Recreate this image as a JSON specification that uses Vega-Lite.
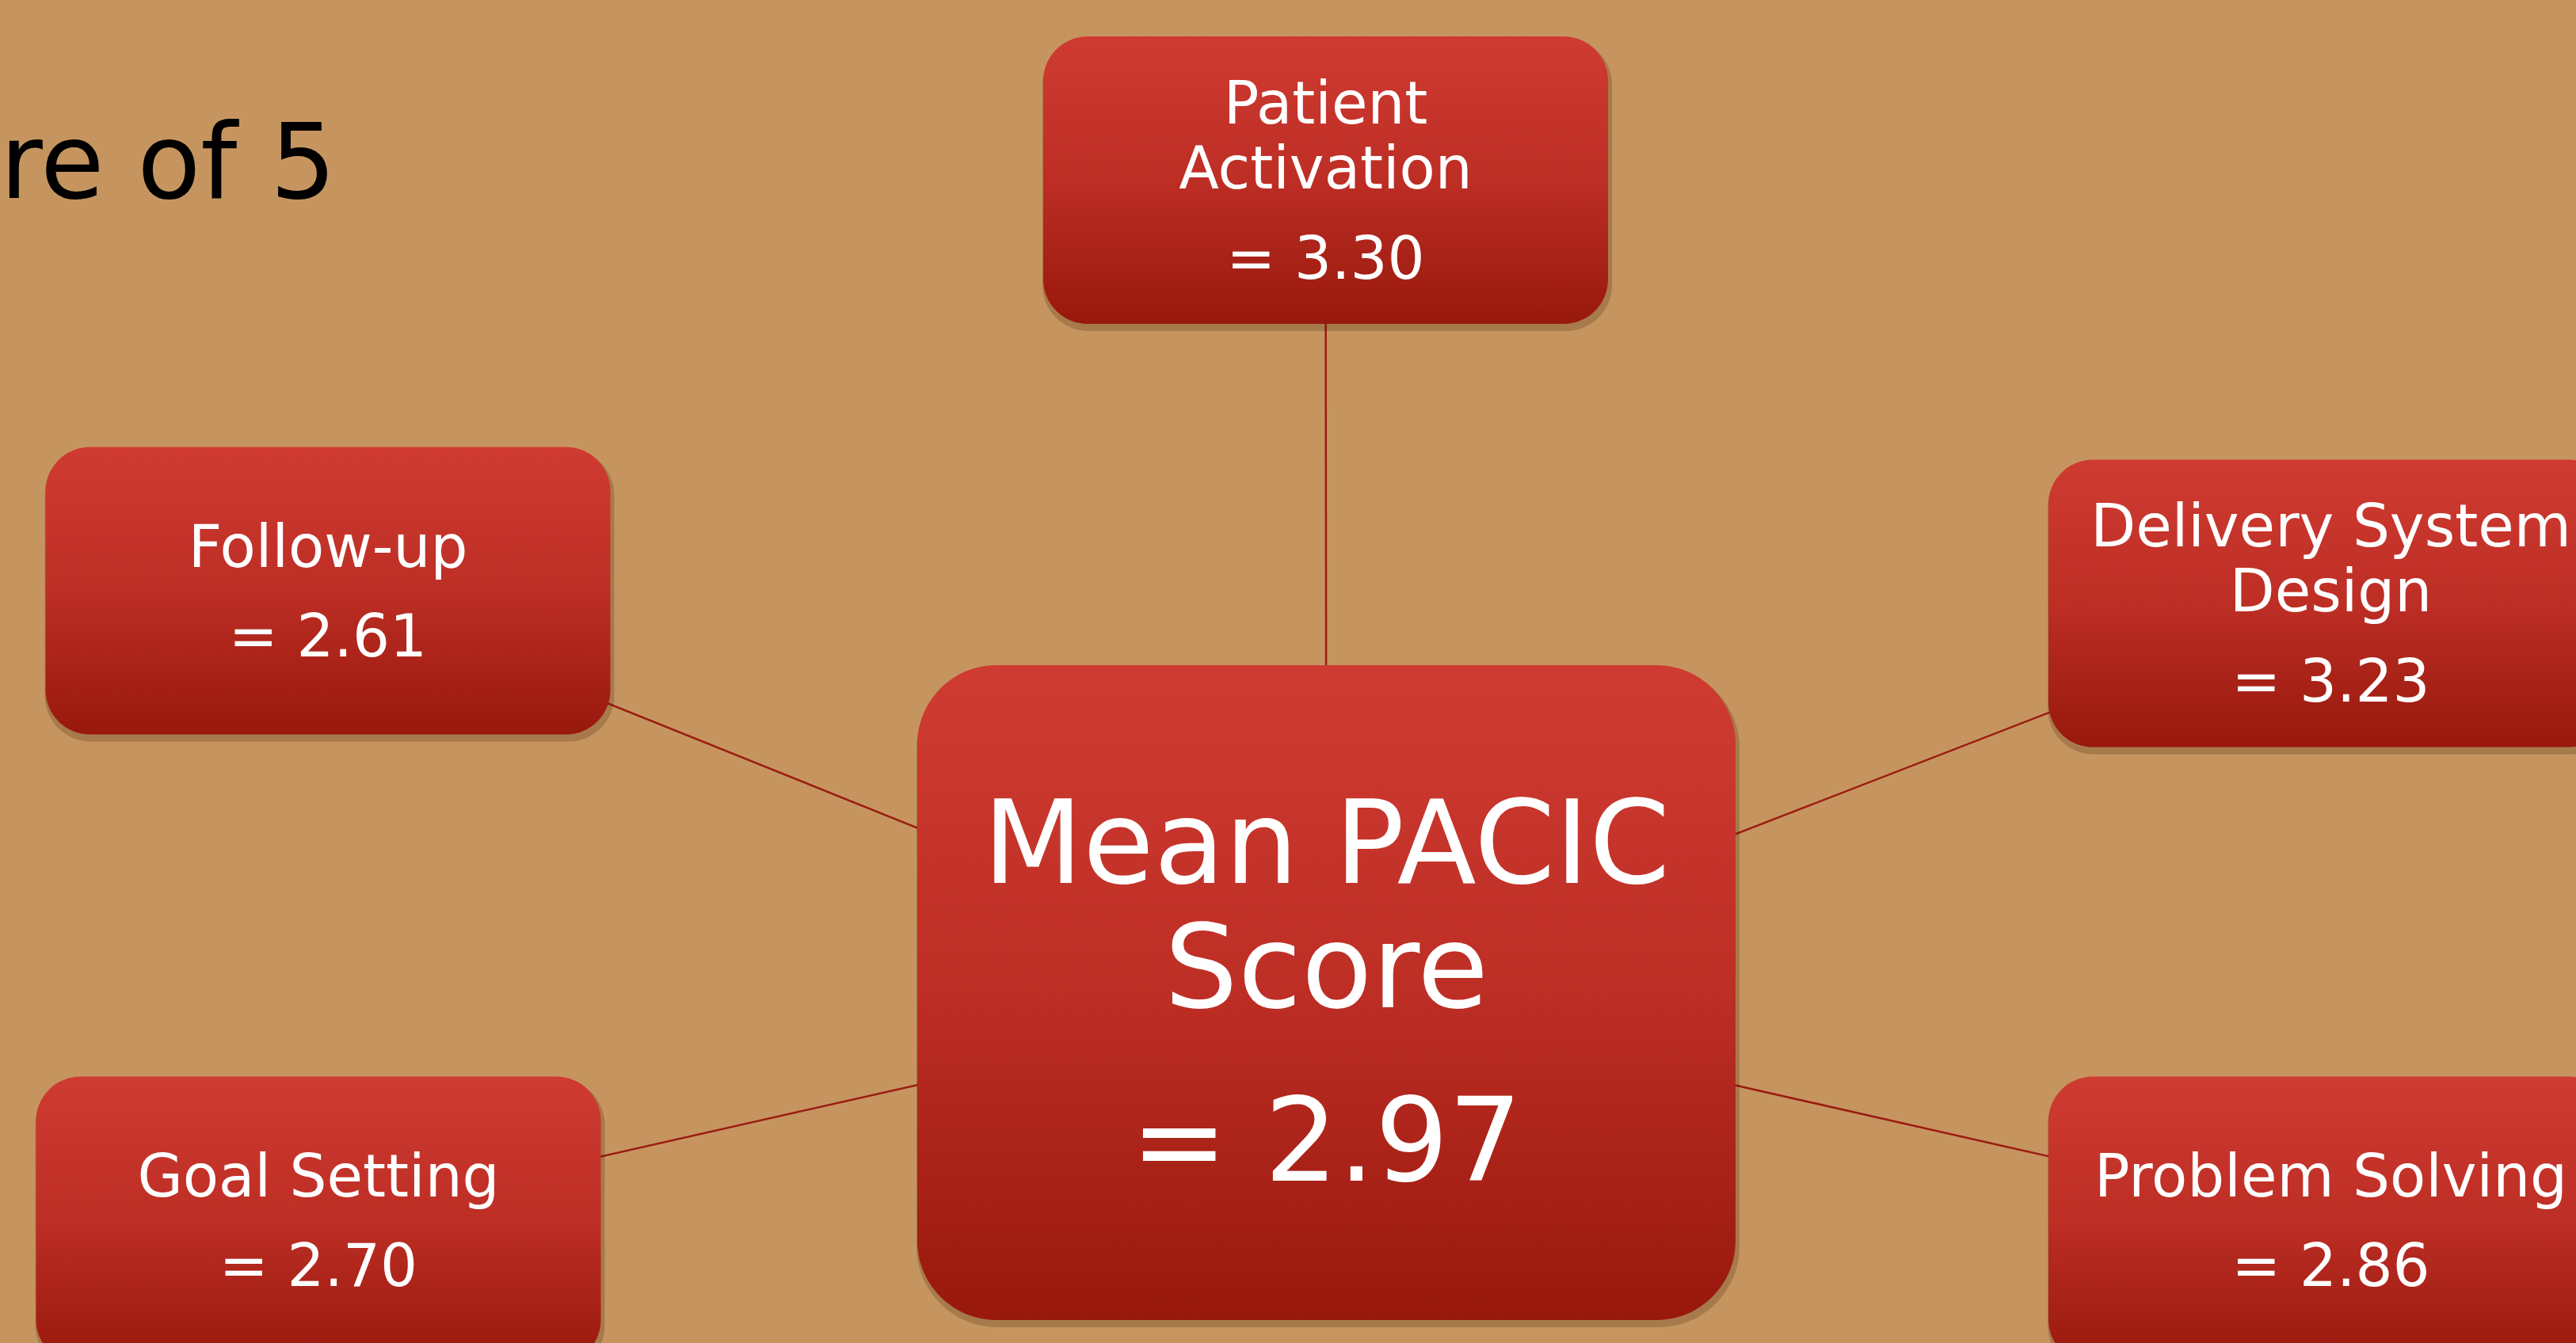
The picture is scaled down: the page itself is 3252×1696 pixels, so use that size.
{
  "$schema": "https://vega.github.io/schema/vega-lite/v6.json",
  "width": 3252,
  "height": 1696,
  "autosize": {"type": "none"},
  "padding": 0,
  "background": "#c6955f",
  "config": {"view": {"stroke": null}},
  "datasets": {
    "nodes": [
      {"id": "hub", "role": "overall", "label": ["Mean PACIC", "Score"], "score": 2.97, "cx": 1674.5, "cy": 1253.5},
      {"id": "pa", "role": "subscale", "parent": "hub", "label": ["Patient", "Activation"], "score": 3.30, "cx": 1673.5, "cy": 227.5},
      {"id": "fu", "role": "subscale", "parent": "hub", "label": ["Follow-up"], "score": 2.61, "cx": 414, "cy": 746},
      {"id": "dsd", "role": "subscale", "parent": "hub", "label": ["Delivery System", "Design"], "score": 3.23, "cx": 2942.5, "cy": 762},
      {"id": "gs", "role": "subscale", "parent": "hub", "label": ["Goal Setting"], "score": 2.70, "cx": 402, "cy": 1541},
      {"id": "ps", "role": "subscale", "parent": "hub", "label": ["Problem Solving"], "score": 2.86, "cx": 2942.5, "cy": 1541}
    ]
  },
  "data": {"name": "nodes"},
  "layer": [
    {
      "transform": [
        {"filter": "isValid(datum.parent)"},
        {"lookup": "parent", "from": {"data": {"name": "nodes"}, "key": "id", "fields": ["cx", "cy"]}, "as": ["px", "py"]}
      ],
      "mark": {"type": "rule", "color": "#9b1b12", "strokeWidth": 2.5},
      "encoding": {
        "x": {"field": "cx", "type": "quantitative", "scale": {"domain": [0, 3252], "nice": false, "zero": false}, "axis": null},
        "y": {"field": "cy", "type": "quantitative", "scale": {"domain": [0, 1696], "nice": false, "zero": false, "reverse": true}, "axis": null},
        "x2": {"field": "px"},
        "y2": {"field": "py"}
      }
    },
    {
      "transform": [{"filter": "datum.role == 'subscale'"}],
      "mark": {"type": "rect", "width": 719, "height": 369, "cornerRadius": 58, "fill": "#3d1c06", "opacity": 0.22, "xOffset": 2, "yOffset": 6},
      "encoding": {
        "x": {"field": "cx", "type": "quantitative", "scale": {"domain": [0, 3252], "nice": false, "zero": false}, "axis": null},
        "y": {"field": "cy", "type": "quantitative", "scale": {"domain": [0, 1696], "nice": false, "zero": false, "reverse": true}, "axis": null}
      }
    },
    {
      "transform": [{"filter": "datum.role == 'overall'"}],
      "mark": {"type": "rect", "width": 1039, "height": 833, "cornerRadius": 102, "fill": "#3d1c06", "opacity": 0.22, "xOffset": 2, "yOffset": 6},
      "encoding": {
        "x": {"field": "cx", "type": "quantitative", "scale": {"domain": [0, 3252], "nice": false, "zero": false}, "axis": null},
        "y": {"field": "cy", "type": "quantitative", "scale": {"domain": [0, 1696], "nice": false, "zero": false, "reverse": true}, "axis": null}
      }
    },
    {
      "transform": [{"filter": "datum.role == 'subscale'"}],
      "mark": {
        "type": "rect", "width": 713, "height": 363, "cornerRadius": 56,
        "fill": {"gradient": "linear", "x1": 0, "y1": 0, "x2": 0, "y2": 1, "stops": [
          {"offset": 0, "color": "#cf3b31"},
          {"offset": 0.5, "color": "#bd2e25"},
          {"offset": 1, "color": "#98180c"}
        ]}
      },
      "encoding": {
        "x": {"field": "cx", "type": "quantitative", "scale": {"domain": [0, 3252], "nice": false, "zero": false}, "axis": null},
        "y": {"field": "cy", "type": "quantitative", "scale": {"domain": [0, 1696], "nice": false, "zero": false, "reverse": true}, "axis": null}
      }
    },
    {
      "transform": [{"filter": "datum.role == 'overall'"}],
      "mark": {
        "type": "rect", "width": 1033, "height": 827, "cornerRadius": 100,
        "fill": {"gradient": "linear", "x1": 0, "y1": 0, "x2": 0, "y2": 1, "stops": [
          {"offset": 0, "color": "#cf3b31"},
          {"offset": 0.5, "color": "#bd2e25"},
          {"offset": 1, "color": "#98180c"}
        ]}
      },
      "encoding": {
        "x": {"field": "cx", "type": "quantitative", "scale": {"domain": [0, 3252], "nice": false, "zero": false}, "axis": null},
        "y": {"field": "cy", "type": "quantitative", "scale": {"domain": [0, 1696], "nice": false, "zero": false, "reverse": true}, "axis": null}
      }
    },
    {
      "transform": [{"filter": "datum.role == 'subscale' && length(datum.label) == 1"}],
      "mark": {"type": "text", "font": "DejaVu Sans", "fontSize": 74, "color": "white", "align": "center", "baseline": "alphabetic", "dy": -30},
      "encoding": {
        "x": {"field": "cx", "type": "quantitative", "scale": {"domain": [0, 3252], "nice": false, "zero": false}, "axis": null},
        "y": {"field": "cy", "type": "quantitative", "scale": {"domain": [0, 1696], "nice": false, "zero": false, "reverse": true}, "axis": null},
        "text": {"field": "label", "type": "nominal"}
      }
    },
    {
      "transform": [{"filter": "datum.role == 'subscale' && length(datum.label) == 2"}],
      "mark": {"type": "text", "font": "DejaVu Sans", "fontSize": 74, "lineHeight": 82, "color": "white", "align": "center", "baseline": "alphabetic", "dy": -72},
      "encoding": {
        "x": {"field": "cx", "type": "quantitative", "scale": {"domain": [0, 3252], "nice": false, "zero": false}, "axis": null},
        "y": {"field": "cy", "type": "quantitative", "scale": {"domain": [0, 1696], "nice": false, "zero": false, "reverse": true}, "axis": null},
        "text": {"field": "label", "type": "nominal"}
      }
    },
    {
      "transform": [{"filter": "datum.role == 'subscale' && length(datum.label) == 1"}],
      "mark": {"type": "text", "font": "DejaVu Sans", "fontSize": 74, "color": "white", "align": "center", "baseline": "alphabetic", "dy": 83, "text": {"expr": "'= ' + format(datum.score, '.2f')"}},
      "encoding": {
        "x": {"field": "cx", "type": "quantitative", "scale": {"domain": [0, 3252], "nice": false, "zero": false}, "axis": null},
        "y": {"field": "cy", "type": "quantitative", "scale": {"domain": [0, 1696], "nice": false, "zero": false, "reverse": true}, "axis": null}
      }
    },
    {
      "transform": [{"filter": "datum.role == 'subscale' && length(datum.label) == 2"}],
      "mark": {"type": "text", "font": "DejaVu Sans", "fontSize": 74, "color": "white", "align": "center", "baseline": "alphabetic", "dy": 124, "text": {"expr": "'= ' + format(datum.score, '.2f')"}},
      "encoding": {
        "x": {"field": "cx", "type": "quantitative", "scale": {"domain": [0, 3252], "nice": false, "zero": false}, "axis": null},
        "y": {"field": "cy", "type": "quantitative", "scale": {"domain": [0, 1696], "nice": false, "zero": false, "reverse": true}, "axis": null}
      }
    },
    {
      "transform": [{"filter": "datum.role == 'overall'"}],
      "mark": {"type": "text", "font": "DejaVu Sans", "fontSize": 146, "lineHeight": 157, "color": "white", "align": "center", "baseline": "alphabetic", "dy": -139},
      "encoding": {
        "x": {"field": "cx", "type": "quantitative", "scale": {"domain": [0, 3252], "nice": false, "zero": false}, "axis": null},
        "y": {"field": "cy", "type": "quantitative", "scale": {"domain": [0, 1696], "nice": false, "zero": false, "reverse": true}, "axis": null},
        "text": {"field": "label", "type": "nominal"}
      }
    },
    {
      "transform": [{"filter": "datum.role == 'overall'"}],
      "mark": {"type": "text", "font": "DejaVu Sans", "fontSize": 146, "color": "white", "align": "center", "baseline": "alphabetic", "dy": 237, "text": {"expr": "'= ' + format(datum.score, '.2f')"}},
      "encoding": {
        "x": {"field": "cx", "type": "quantitative", "scale": {"domain": [0, 3252], "nice": false, "zero": false}, "axis": null},
        "y": {"field": "cy", "type": "quantitative", "scale": {"domain": [0, 1696], "nice": false, "zero": false, "reverse": true}, "axis": null}
      }
    },
    {
      "data": {"values": [{"caption": "re of 5"}]},
      "mark": {"type": "text", "font": "DejaVu Sans", "fontSize": 131, "color": "black", "align": "left", "baseline": "alphabetic"},
      "encoding": {
        "x": {"datum": 0, "type": "quantitative", "scale": {"domain": [0, 3252], "nice": false, "zero": false}, "axis": null},
        "y": {"datum": 250, "type": "quantitative", "scale": {"domain": [0, 1696], "nice": false, "zero": false, "reverse": true}, "axis": null},
        "text": {"field": "caption", "type": "nominal"}
      }
    }
  ]
}
